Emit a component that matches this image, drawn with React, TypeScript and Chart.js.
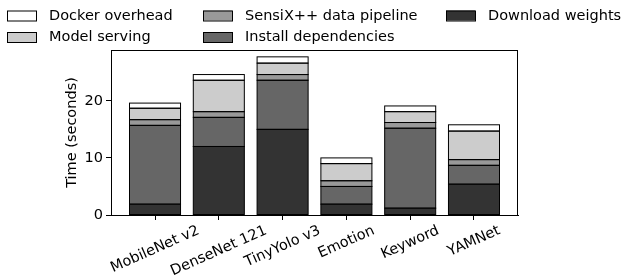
import React, { useEffect, useRef } from "react";
import { Chart, registerables } from "chart.js";

Chart.register(...registerables);

const categories = ["MobileNet v2", "DenseNet 121", "TinyYolo v3", "Emotion", "Keyword", "YAMNet"];
const downloadWeights = [1.9, 12.0, 15.0, 1.9, 1.2, 5.4];
const installDependencies = [13.8, 5.1, 8.6, 3.1, 14.0, 3.3];
const sensixPipeline = [1.0, 1.0, 1.0, 1.0, 1.0, 1.0];
const modelServing = [2.0, 5.5, 2.0, 3.0, 1.9, 5.0];
const dockerOverhead = [0.9, 1.0, 1.1, 1.0, 1.0, 1.1];
const yTicks = [0, 10, 20];

const seriesNames = ["Download weights", "Install dependencies", "SensiX++ data pipeline", "Model serving", "Docker overhead"];
const seriesColors = ["#333333", "#666666", "#999999", "#cccccc", "#ffffff"];
const seriesValues = [downloadWeights, installDependencies, sensixPipeline, modelServing, dockerOverhead];

// legend grid: [series index, column, row]
const legendLayout: [number, number, number][] = [
  [4, 0, 0],
  [3, 0, 1],
  [2, 1, 0],
  [1, 1, 1],
  [0, 2, 0],
];
const legendColX = [7, 203, 446];
const legendRowY = [10.5, 32];

const FONT = "DejaVu Sans";
const FS = 14.5;
const ROT = (24 * Math.PI) / 180;

const framePlugin = {
  id: "frame",
  afterDatasetsDraw(chart: any) {
    const { ctx, chartArea } = chart;
    ctx.save();
    ctx.strokeStyle = "#000";
    ctx.lineWidth = 1;
    // bar outlines centred on the edges
    chart.data.datasets.forEach((_: any, di: number) => {
      const meta = chart.getDatasetMeta(di);
      meta.data.forEach((bar: any) => {
        const p = bar.getProps(["x", "y", "base", "width"], true);
        const l = p.x - p.width / 2;
        ctx.strokeRect(l, Math.min(p.y, p.base), p.width, Math.abs(p.base - p.y));
      });
    });
    ctx.strokeRect(
      Math.round(chartArea.left) + 0.5,
      Math.round(chartArea.top) + 0.5,
      Math.round(chartArea.right - chartArea.left) - 1,
      Math.round(chartArea.bottom - chartArea.top)
    );
    ctx.restore();
  },
  afterDraw(chart: any) {
    const { ctx } = chart;
    ctx.save();
    ctx.font = `${FS}px "${FONT}"`;
    ctx.textBaseline = "middle";
    ctx.textAlign = "left";
    for (const [idx, col, row] of legendLayout) {
      const x = legendColX[col];
      const y = legendRowY[row];
      ctx.fillStyle = seriesColors[idx];
      ctx.fillRect(x, y, 29, 10);
      ctx.strokeStyle = "#000";
      ctx.lineWidth = 1;
      ctx.strokeRect(x + 0.5, y + 0.5, 29, 10);
      ctx.fillStyle = "#000";
      ctx.fillText(seriesNames[idx], x + 42, y + 5.5);
    }
    // rotated, centred x tick labels
    const xs = chart.scales.x;
    const top = chart.chartArea.bottom + 7.2;
    const h = FS * 1.17;
    ctx.textAlign = "center";
    categories.forEach((label, i) => {
      const w = ctx.measureText(label).width;
      const cx = xs.getPixelForValue(i);
      const cy = top + (w * Math.sin(ROT) + h * Math.cos(ROT)) / 2;
      ctx.save();
      ctx.translate(cx, cy);
      ctx.rotate(-ROT);
      ctx.fillText(label, 0, 0);
      ctx.restore();
    });
    ctx.restore();
  },
};

export default function App() {
  const ref = useRef<HTMLCanvasElement | null>(null);
  useEffect(() => {
    document.body.style.margin = "0";
    const canvas = ref.current!;
    const datasets = seriesNames.map((name, s) => ({
      label: name,
      data: seriesValues[s].map((v, i) => ({ x: i, y: v })),
      backgroundColor: seriesColors[s],
      borderColor: "#000",
      borderWidth: 0,
      barPercentage: 0.8,
      categoryPercentage: 1,
    }));
    const chart = new Chart(canvas, {
      type: "bar",
      data: { datasets },
      options: {
        animation: false,
        responsive: false,
        maintainAspectRatio: false,
        layout: { padding: { top: 50, right: 105, left: 0, bottom: 0 } },
        plugins: { legend: { display: false }, tooltip: { enabled: false } },
        scales: {
          x: {
            type: "linear",
            stacked: true,
            offset: false,
            min: -0.69,
            max: 5.69,
            afterBuildTicks: (scale: any) => {
              scale.ticks = categories.map((_, i) => ({ value: i }));
            },
            afterFit: (scale: any) => {
              scale.height = 62;
            },
            grid: { offset: false, drawOnChartArea: false, drawTicks: true, tickLength: 5, color: "#000" },
            border: { color: "#000", width: 1 },
            ticks: { display: false },
          },
          y: {
            stacked: true,
            min: 0,
            max: 28.9,
            afterBuildTicks: (scale: any) => {
              scale.ticks = yTicks.map((v) => ({ value: v }));
            },
            afterFit: (scale: any) => {
              scale.width = 111;
            },
            grid: { drawOnChartArea: false, drawTicks: true, tickLength: 5, color: "#000" },
            border: { color: "#000", width: 1 },
            ticks: {
              padding: 3,
              color: "#000",
              font: { family: FONT, size: FS },
            },
            title: {
              display: true,
              text: "Time (seconds)",
              color: "#000",
              font: { family: FONT, size: FS },
              padding: { top: 64, bottom: 0 },
            },
          },
        },
      },
      plugins: [framePlugin],
    } as any);
    return () => chart.destroy();
  }, []);
  return (
    <div style={{ position: "absolute", left: 0, top: 0, width: 623, height: 277, background: "#fff" }}>
      <canvas ref={ref} width={623} height={277} style={{ width: 623, height: 277 }} />
    </div>
  );
}
